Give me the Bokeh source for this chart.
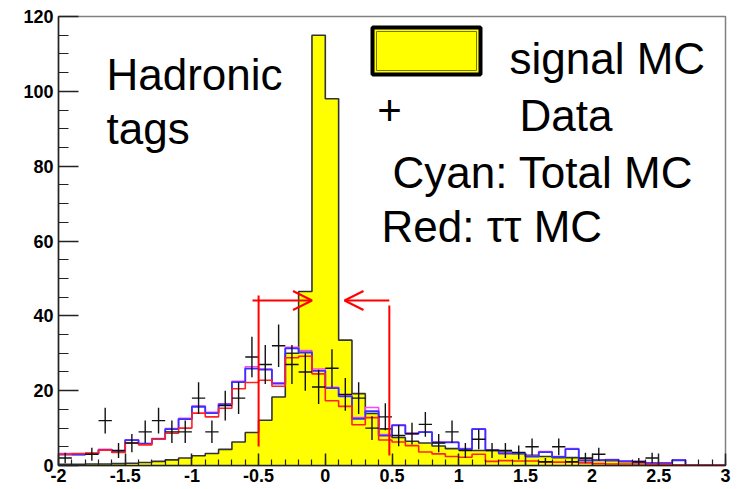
import numpy as np
from bokeh.plotting import figure
from bokeh.models import SingleIntervalTicker, Arrow, OpenHead, Range1d, CustomJSTickFormatter
from bokeh.core.properties import value
from bokeh.embed import file_html
from bokeh.resources import INLINE

# ---------------- data ----------------
x_lo, x_hi, nbins = -2.0, 3.0, 50
edges = np.round(np.linspace(x_lo, x_hi, nbins + 1), 3)

signal_mc = [0.3, 0.3, 0.4, 0.4, 0.5, 0.6, 0.8, 1.1, 1.5, 2.0,
             2.6, 3.2, 4.3, 6.3, 8.8, 12.1, 18.3, 30.0, 46.5, 115.0,
             98.0, 33.5, 19.2, 13.9, 9.8, 7.5, 6.5, 6.0, 5.2, 4.5,
             4.2, 4.0, 4.0, 3.6, 3.2, 2.7, 2.4, 2.1, 2.1, 1.8,
             1.5, 1.3, 1.1, 0.9, 0.6, 0.4, 0.2, 0.1, 0.05, 0.0]

total_mc = [2.9, 2.9, 3.2, 4.2, 3.6, 6.8, 5.8, 7.1, 9.7, 12.4,
            15.7, 14.0, 16.3, 22.3, 25.9, 25.6, 21.9, 31.3, 30.2, 25.3,
            20.7, 18.5, 12.5, 14.5, 8.0, 10.7, 8.5, 8.9, 6.2, 6.2,
            4.4, 9.7, 4.1, 3.2, 3.2, 2.4, 3.6, 2.3, 4.4, 1.3,
            1.4, 1.5, 1.1, 1.0, 0.6, 0.6, 1.4, 0.0, 0.0, 0.0]

total_mc_alt = [3.2, 2.9, 3.2, 4.3, 3.7, 6.9, 5.9, 7.2, 9.9, 12.6,
                15.9, 14.2, 16.5, 22.5, 26.4, 25.8, 22.1, 31.6, 30.7, 25.8,
                20.9, 18.7, 12.8, 15.5, 8.3, 10.9, 8.7, 9.0, 6.3, 6.3,
                4.5, 9.8, 4.2, 3.3, 3.3, 2.5, 3.7, 2.4, 4.5, 1.4,
                1.5, 1.6, 1.2, 1.1, 0.7, 0.7, 1.5, 0.0, 0.0, 0.0]

tautau_mc = [3.0, 3.2, 3.3, 4.1, 3.5, 6.0, 5.5, 7.0, 8.6, 10.0,
             14.0, 13.0, 15.3, 20.5, 22.2, 22.8, 21.2, 28.8, 29.2, 24.5,
             17.3, 15.8, 10.9, 12.8, 6.8, 6.3, 5.3, 3.6, 3.1, 2.4,
             2.2, 3.0, 1.1, 1.3, 1.2, 1.2, 0.9, 0.9, 0.9, 0.7,
             0.5, 0.4, 0.4, 0.4, 0.3, 0.3, 0.2, 0.1, 0.1, 0.1]

data = [2, 0, 3, 12, 4, 6, 9, 12, 9, 9,
        18, 9, 16, 18, 29, 27, 32, 27, 25, 21,
        26, 19, 18, 10, 13, 8, 8.5, 11, 6, 9,
        4, 7, 4, 4, 3.5, 5, 1, 5, 1, 2,
        3, 0, 0, 1, 2, 0, 0, 0, 0, 0]

cut_lo, cut_hi = -0.5, 0.48

# ---------------- helpers: reference pixel -> data coords for annotations ----
FL, FR, FT, FB = 58, 725, 16, 465
def dx(px):
    return x_lo + (px - FL) * (x_hi - x_lo) / (FR - FL)
def dy(py):
    return (FB - py) * 120.0 / (FB - FT)

def ext(v):
    return list(v) + [v[-1]]

# ---------------- figure ----------------
p = figure(width=741, height=489, x_range=Range1d(x_lo, x_hi), y_range=Range1d(0, 120),
           output_backend="svg", toolbar_location=None,
           min_border_left=FL, min_border_right=741 - FR, min_border_top=FT,
           min_border_bottom=489 - FB)
p.grid.visible = False
p.background_fill_color = "white"
p.border_fill_color = "white"
p.outline_line_color = "#808080"
p.outline_line_width = 1.5

# signal MC: yellow filled histogram with dark outline
p.varea_step(x=list(edges), y1=0, y2=ext(signal_mc), step_mode="after", fill_color="#ffff00")
p.step(x=list(edges), y=ext(signal_mc), mode="after", line_color="#333333", line_width=1.6)

# total MC (magenta + blue), tau tau MC (red)
p.step(x=list(edges), y=ext(total_mc_alt), mode="after", line_color="#ff44ff", line_width=1.6)
p.step(x=list(edges), y=ext(total_mc), mode="after", line_color="#3333ff", line_width=1.8)
p.step(x=list(edges), y=ext(tautau_mc), mode="after", line_color="#ff2222", line_width=1.6)

# data crosses
lefts = edges[:-1]
rights = edges[1:]
centers = (lefts + rights) / 2
dsel = [i for i, d in enumerate(data) if d > 0]
dvals = np.array([data[i] for i in dsel], dtype=float)
err = np.sqrt(dvals)
p.segment(x0=[lefts[i] for i in dsel], x1=[rights[i] for i in dsel], y0=dvals, y1=dvals,
          line_color="#111111", line_width=1.4)
p.segment(x0=[centers[i] for i in dsel], x1=[centers[i] for i in dsel], y0=dvals - err, y1=dvals + err,
          line_color="#111111", line_width=1.4)

# cut lines and arrows
arrow_y = dy(300)
p.segment(x0=[cut_lo, cut_hi], x1=[cut_lo, cut_hi], y0=[dy(446), dy(455)], y1=[dy(295), dy(305)],
          line_color="#ff0000", line_width=2)
p.add_layout(Arrow(end=OpenHead(size=19, line_color="#ff0000", line_width=2),
                   x_start=dx(252), y_start=arrow_y, x_end=dx(311.5), y_end=arrow_y,
                   line_color="#ff0000", line_width=2))
p.add_layout(Arrow(end=OpenHead(size=19, line_color="#ff0000", line_width=2),
                   x_start=cut_hi, y_start=arrow_y, x_end=dx(344), y_end=arrow_y,
                   line_color="#ff0000", line_width=2))

# legend box (signal MC swatch)
p.quad(left=[dx(372)], right=[dx(480)], top=[dy(27)], bottom=[dy(74)],
       fill_color="#ffff00", line_color="black", line_width=4)
p.quad(left=[dx(376)], right=[dx(476)], top=[dy(31)], bottom=[dy(70)],
       fill_alpha=0, line_color="#777700", line_width=1)

font = value("Liberation Sans")
p.text(x=[dx(106), dx(106), dx(509), dx(519), dx(392), dx(381)],
       y=[dy(74), dy(128), dy(58), dy(115), dy(172), dy(226)],
       text=["Hadronic", "tags", "signal MC", "Data", "Cyan: Total MC", "Red: \u03c4\u03c4 MC"],
       text_font=font, text_font_size="44px", text_baseline="alphabetic",
       text_align="left", text_color="black")
p.text(x=[dx(389)], y=[dy(110)], text=["+"], text_font=font, text_font_size="42px",
       text_baseline="middle", text_align="center", text_color="black")

# axes
p.xaxis.ticker = SingleIntervalTicker(interval=0.5, num_minor_ticks=5)
p.yaxis.ticker = SingleIntervalTicker(interval=20, num_minor_ticks=4)
p.xaxis.formatter = CustomJSTickFormatter(code="return (Math.round(tick*10)/10).toString();")
for ax in (p.xaxis[0], p.yaxis[0]):
    ax.major_tick_out = 0
    ax.minor_tick_out = 0
    ax.axis_line_color = "#222222"
    ax.axis_line_width = 1.5
    ax.major_tick_line_color = "#222222"
    ax.minor_tick_line_color = "#222222"
    ax.major_tick_line_width = 1.5
    ax.minor_tick_line_width = 1.2
    ax.major_label_text_font = "Liberation Sans"
    ax.major_label_text_font_style = "bold"
    ax.major_label_text_font_size = "18px"
    ax.major_label_text_color = "black"
p.xaxis.major_tick_in = 12
p.xaxis.minor_tick_in = 6
p.xaxis.major_label_standoff = 3
p.yaxis.major_tick_in = 20
p.yaxis.minor_tick_in = 10
p.yaxis.major_label_standoff = 5

open("out.html", "w").write(file_html(p, INLINE))
